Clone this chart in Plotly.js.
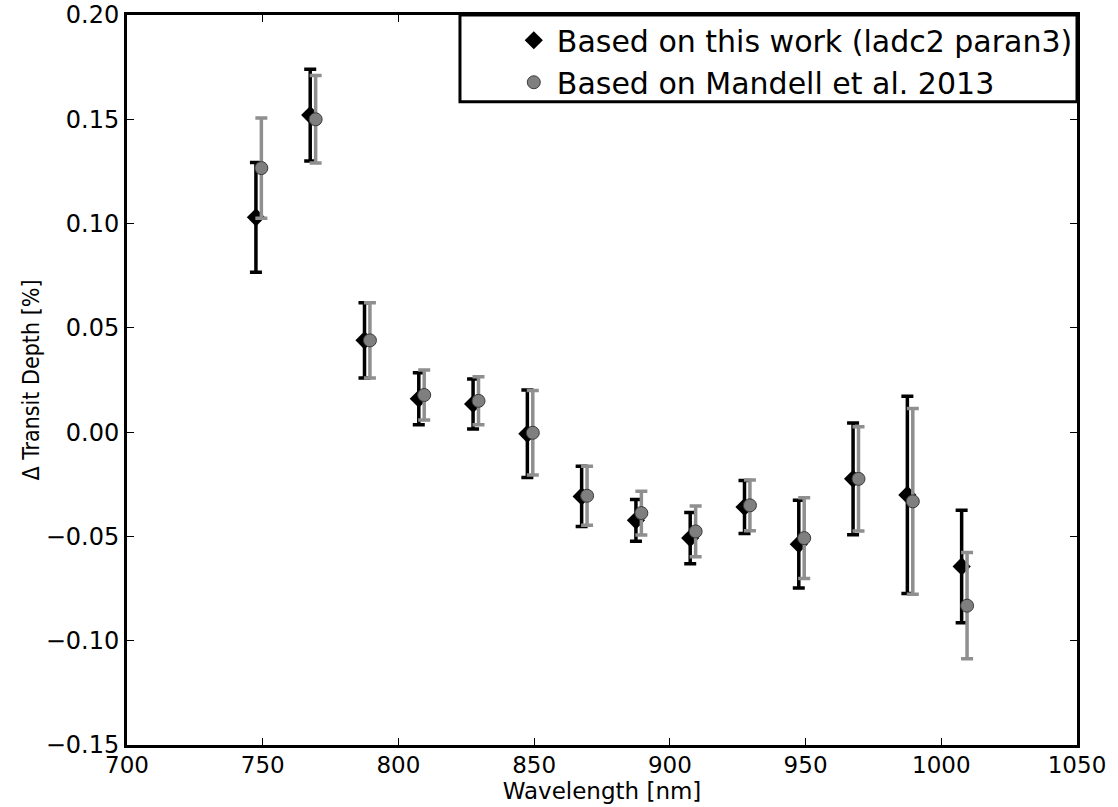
<!DOCTYPE html>
<html>
<head>
<meta charset="utf-8">
<script src="https://cdn.plot.ly/plotly-3.0.1.min.js"></script>
<style>html,body{margin:0;padding:0;background:#fff;}#chart{width:1118px;height:807px;}</style>
</head>
<body>
<div id="chart"></div>
<script>
// Wavelengths [nm]
const wlThisWork = [747.5, 767.5, 787.5, 807.5, 827.5, 847.5, 867.5, 887.5, 907.5, 927.5, 947.5, 967.5, 987.5, 1007.5];
const wlMandell  = [749.5, 769.5, 789.5, 809.5, 829.5, 849.5, 869.5, 889.5, 909.5, 929.5, 949.5, 969.5, 989.5, 1009.5];
// Delta transit depth [%]
const depthThisWork = [0.103, 0.152, 0.044, 0.016, 0.0135, -0.0008, -0.0308, -0.0423, -0.0508, -0.0359, -0.0537, -0.0224, -0.0301, -0.0644];
const errThisWork   = [0.0263, 0.022, 0.018, 0.0125, 0.012, 0.021, 0.0144, 0.010, 0.0123, 0.0127, 0.021, 0.0268, 0.0473, 0.027];
const depthMandell  = [0.1266, 0.150, 0.044, 0.0178, 0.015, -0.0003, -0.0305, -0.0388, -0.0476, -0.0351, -0.0508, -0.0224, -0.0332, -0.0832];
const errMandell    = [0.024, 0.021, 0.018, 0.012, 0.0115, 0.0203, 0.0141, 0.0105, 0.0122, 0.0122, 0.0194, 0.025, 0.0445, 0.0255];
const seriesNames = ['Based on this work (ladc2 paran3)', 'Based on Mandell et al. 2013'];
const yTicks = [-0.15, -0.10, -0.05, 0.00, 0.05, 0.10, 0.15, 0.20];
const xTicks = [700, 750, 800, 850, 900, 950, 1000, 1050];

const font = 'DejaVu Sans, sans-serif';
const condFont = 'DejaVu Sans Condensed, DejaVu Sans, sans-serif';
const traces = [
  {
    x: wlThisWork, y: depthThisWork, name: seriesNames[0],
    type: 'scatter', mode: 'markers',
    marker: {symbol: 'diamond', size: 14, color: '#000000', line: {width: 0}},
    error_y: {type: 'data', array: errThisWork, visible: true, color: '#000000', thickness: 3.5, width: 6}
  },
  {
    x: wlMandell, y: depthMandell, name: seriesNames[1],
    type: 'scatter', mode: 'markers',
    marker: {symbol: 'circle', size: 13, color: '#7f7f7f', line: {width: 1, color: '#3a3a3a'}},
    error_y: {type: 'data', array: errMandell, visible: true, color: '#8f8f8f', thickness: 3.5, width: 6}
  }
];

const layout = {
  width: 1118, height: 807,
  margin: {l: 127, r: 41, t: 15, b: 62},
  paper_bgcolor: '#ffffff', plot_bgcolor: '#ffffff',
  font: {family: font, size: 24, color: '#000'},
  showlegend: true,
  legend: {
    x: 0.404, y: 1.001, xanchor: 'left', yanchor: 'top',
    bgcolor: 'rgba(0,0,0,0)', borderwidth: 0,
    font: {family: font, size: 30, color: '#000'},
    itemwidth: 36, tracegroupgap: 0
  },
  shapes: [{
    type: 'rect', xref: 'paper', yref: 'paper',
    x0: 0.3505, x1: 1, y0: 0.881, y1: 1,
    line: {color: '#000', width: 3}, fillcolor: '#ffffff', layer: 'above'
  }],
  xaxis: {
    range: [700, 1050], tickvals: xTicks, ticktext: xTicks.map(String),
    showgrid: false, zeroline: false,
    showline: true, linecolor: '#000', linewidth: 3, mirror: 'ticks',
    ticks: 'inside', ticklen: 7, tickwidth: 1, tickcolor: '#000',
    tickfont: {family: font, size: 23}, ticklabelstandoff: -3,
    title: {text: 'Wavelength [nm]', font: {family: font, size: 23}, standoff: 3}
  },
  yaxis: {
    range: [-0.15, 0.20], tickvals: yTicks, tickformat: '.2f',
    showgrid: false, zeroline: false,
    showline: true, linecolor: '#000', linewidth: 3, mirror: 'ticks',
    ticks: 'inside', ticklen: 7, tickwidth: 1, tickcolor: '#000',
    tickfont: {family: font, size: 24},
    title: {text: 'Δ Transit Depth [%]', font: {family: condFont, size: 23}, standoff: 0}
  }
};

Plotly.newPlot('chart', traces, layout, {displayModeBar: false, staticPlot: true});
</script>
</body>
</html>
